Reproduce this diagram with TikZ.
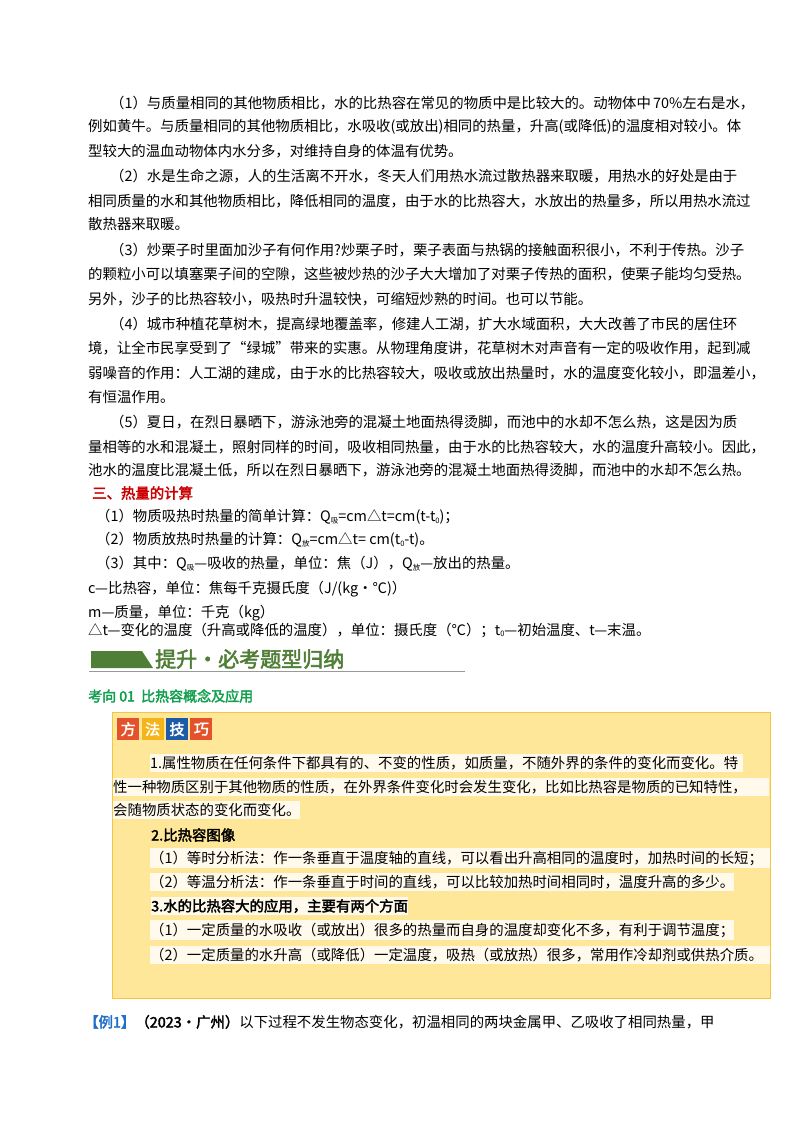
\documentclass[tikz,border=0pt]{standalone}
\usepackage{fontspec}
\setmainfont{Noto Sans CJK SC}[AutoFakeBold=2.5]
\usetikzlibrary{positioning}
\XeTeXlinebreaklocale "zh"
\XeTeXlinebreakskip=0pt plus 6pt
\definecolor{hdgreen}{HTML}{4F7F36}
\definecolor{kxgreen}{HTML}{12A04E}
\definecolor{boxfill}{HTML}{FFE79A}
\definecolor{boxline}{HTML}{F6C445}
\definecolor{hlfill}{HTML}{FFFAEB}
\definecolor{tred}{HTML}{E4522B}
\definecolor{tyel}{HTML}{F4B41A}
\definecolor{tblue}{HTML}{1D5AA8}
\definecolor{exblue}{HTML}{1F6FC8}
\newcommand\jl[2]{\hbox to #1pt{#2}}
\newcommand\sub[1]{\raisebox{-1.5pt}{\fontsize{7.5}{8}\selectfont #1}}
\begin{document}
\begin{tikzpicture}[x=1pt,y=-1pt]
\tikzstyle{txt}=[anchor=west,inner sep=0pt,font=\fontsize{14.4}{16}\selectfont]
\tikzstyle{hl}=[txt,fill=hlfill,inner ysep=2.5pt]
\tikzstyle{tile}=[minimum size=22pt,inner sep=0pt,text=white,font=\bfseries\fontsize{15}{16}\selectfont]
\useasboundingbox[fill=white] (0,0) rectangle (800,1132);
% 正文
\node [txt] (p1a) at (88,103) {\jl{654}{\hspace*{22pt}（1）与质量相同的其他物质相比，水的比热容在常见的物质中是比较大的。动物体中 70\%左右是水，}};
\node [txt] (p1b) at (88,127) {\jl{654}{例如黄牛。与质量相同的其他物质相比，水吸收(或放出)相同的热量，升高(或降低)的温度相对较小。体}};
\node [txt] (p1c) at (88,151) {型较大的温血动物体内水分多，对维持自身的体温有优势。};
\node [txt] (p2a) at (88,176) {\jl{654}{\hspace*{22pt}（2）水是生命之源，人的生活离不开水，冬天人们用热水流过散热器来取暖，用热水的好处是由于}};
\node [txt] (p2b) at (88,201) {\jl{654}{相同质量的水和其他物质相比，降低相同的温度，由于水的比热容大，水放出的热量多，所以用热水流过}};
\node [txt] (p2c) at (88,224) {散热器来取暖。};
\node [txt] (p3a) at (88,250) {\jl{654}{\hspace*{22pt}（3）炒栗子时里面加沙子有何作用?炒栗子时，栗子表面与热锅的接触面积很小，不利于传热。沙子}};
\node [txt] (p3b) at (88,274) {\jl{654}{的颗粒小可以填塞栗子间的空隙，这些被炒热的沙子大大增加了对栗子传热的面积，使栗子能均匀受热。}};
\node [txt] (p3c) at (88,299) {另外，沙子的比热容较小，吸热时升温较快，可缩短炒熟的时间。也可以节能。};
\node [txt] (p4a) at (88,324) {\jl{654}{\hspace*{22pt}（4）城市种植花草树木，提高绿地覆盖率，修建人工湖，扩大水域面积，大大改善了市民的居住环}};
\node [txt] (p4b) at (88,348) {\jl{654}{境，让全市民享受到了“绿城”带来的实惠。从物理角度讲，花草树木对声音有一定的吸收作用，起到减}};
\node [txt] (p4c) at (88,373) {\jl{654}{弱噪音的作用：人工湖的建成，由于水的比热容较大，吸收或放出热量时，水的温度变化较小，即温差小，}};
\node [txt] (p4d) at (88,397) {有恒温作用。};
\node [txt] (p5a) at (88,422) {\jl{654}{\hspace*{22pt}（5）夏日，在烈日暴晒下，游泳池旁的混凝土地面热得烫脚，而池中的水却不怎么热，这是因为质}};
\node [txt] (p5b) at (88,447) {\jl{654}{量相等的水和混凝土，照射同样的时间，吸收相同热量，由于水的比热容较大，水的温度升高较小。因此，}};
\node [txt] (p5c) at (88,470) {\jl{654}{池水的温度比混凝土低，所以在烈日暴晒下，游泳池旁的混凝土地面热得烫脚，而池中的水却不怎么热。}};
% 三、热量的计算
\node [txt,text=red!80!black,font=\bfseries\fontsize{14.4}{16}\selectfont] (h3) at (92,493) {三、热量的计算};
\node [txt] (f1) at (96,517) {（1）物质吸热时热量的简单计算：Q\sub{吸}=cm△t=cm(t-t\sub{0})；};
\node [txt] (f2) at (96,540) {（2）物质放热时热量的计算：Q\sub{放}=cm△t= cm(t\sub{0}-t)。};
\node [txt] (f3) at (96,564) {（3）其中：Q\sub{吸}—吸收的热量，单位：焦（J），Q\sub{放}—放出的热量。};
\node [txt] (f4) at (88,589) {c—比热容，单位：焦每千克摄氏度（J/(kg·℃)）};
\node [txt] (f5) at (88,613) {m—质量，单位：千克（kg）};
\node [txt] (f6) at (88,630) {△t—变化的温度（升高或降低的温度），单位：摄氏度（℃）；t\sub{0}—初始温度、t—末温。};
% 提升·必考题型归纳
\fill[hdgreen] (91,651) -- (142,651) -- (153,668) -- (91,668) -- cycle;
\node [txt,text=hdgreen,font=\bfseries\fontsize{21}{22}\selectfont] (hd) at (155,659) {提升·必考题型归纳};
\draw[black!40,line width=1.2pt] (89,671.5) -- (465,671.5);
\node [txt,text=kxgreen,font=\bfseries\fontsize{14}{16}\selectfont] (kx) at (88,696) {考向 01\ \ 比热容概念及应用};
% 方法技巧
\node [draw=boxline,fill=boxfill,line width=1pt,minimum width=658pt,minimum height=286pt,anchor=north west,inner sep=0pt] (box) at (112,712) {};
\node [tile,fill=tred,anchor=north west] (t1) at (117,718) {方};
\node [tile,fill=tyel,right=2pt of t1] (t2) {法};
\node [tile,fill=tblue,right=2pt of t2] (t3) {技};
\node [tile,fill=tred,right=2pt of t3] (t4) {巧};
\node [hl] (b1) at (150,763) {\jl{593}{1.属性物质在任何条件下都具有的、不变的性质，如质量，不随外界的条件的变化而变化。特}};
\node [hl] (b2) at (113,787) {\jl{656}{性一种物质区别于其他物质的性质，在外界条件变化时会发生变化，比如比热容是物质的已知特性，}};
\node [hl] (b3) at (113,810) {会随物质状态的变化而变化。};
\node [txt,font=\bfseries\fontsize{14.4}{16}\selectfont] (b4) at (151,835) {2.比热容图像};
\node [hl] (b5) at (150,858) {\jl{620}{（1）等时分析法：作一条垂直于温度轴的直线，可以看出升高相同的温度时，加热时间的长短；}};
\node [hl] (b6) at (150,882) {（2）等温分析法：作一条垂直于时间的直线，可以比较加热时间相同时，温度升高的多少。};
\node [hl,font=\bfseries\fontsize{14.4}{16}\selectfont] (b7) at (151,906) {3.水的比热容大的应用，主要有两个方面};
\node [hl] (b8) at (150,930) {（1）一定质量的水吸收（或放出）很多的热量而自身的温度却变化不多，有利于调节温度；};
\node [hl] (b9) at (150,955) {\jl{620}{（2）一定质量的水升高（或降低）一定温度，吸热（或放热）很多，常用作冷却剂或供热介质。}};
% 例1
\node [txt] (ex) at (84,1022) {\jl{660}{{\bfseries\color{exblue}【例1】}{\bfseries（2023·广州）}以下过程不发生物态变化，初温相同的两块金属甲、乙吸收了相同热量，甲}};
\end{tikzpicture}
\end{document}
